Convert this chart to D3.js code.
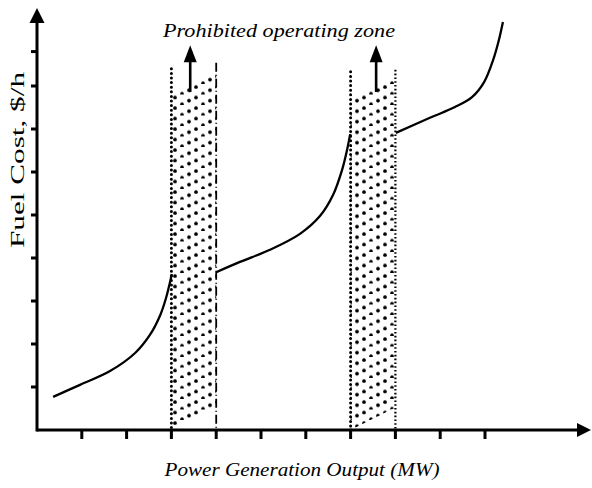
<!DOCTYPE html>
<html>
<head>
<meta charset="utf-8">
<script src="https://cdn.jsdelivr.net/npm/d3@7"></script>
<style>
  html, body { margin: 0; padding: 0; background: #fff; }
  svg { display: block; }
</style>
</head>
<body>
<svg id="chart" width="592" height="488"></svg>
<script>
// tick positions (no numbers are printed on the axes)
const xTicks = [1, 2, 3, 4, 5, 6, 7, 8, 9, 10]
const yTicks = [1, 2, 3, 4, 5, 6, 7, 8, 8.8]

// fuel cost curve, split by the two prohibited zones
const segment1 = [[0.36, 0.77], [0.96, 1.05], [1.63, 1.37], [2.19, 1.79], [2.52, 2.21], [2.75, 2.67], [2.88, 3.07], [3.01, 3.63]]
const segment2 = [[4.0, 3.67], [4.53, 3.91], [5.2, 4.19], [5.87, 4.56], [6.32, 4.98], [6.61, 5.47], [6.81, 6.05], [6.92, 6.51], [6.99, 6.88]]
const segment3 = [[8.01, 6.91], [8.77, 7.26], [9.33, 7.51], [9.71, 7.74], [9.98, 8.09], [10.18, 8.6], [10.31, 9.07], [10.4, 9.49]]

// prohibited operating zones: [from, to, top]
const zones = [[3, 4, 8.4], [7, 8, 8.33]]
const zoneArrowX = [3.42, 7.57]

const svg = d3.select('#chart')
const x = d3.scaleLinear().domain([0, 10]).range([37, 485])
const y = d3.scaleLinear().domain([0, 10]).range([430, 0])
const x0 = x(0), y0 = y(0)
const serif = 'Liberation Serif, DejaVu Serif, serif'

// dots on lines rising to the right: step (7, -3.5), rows 10.5 apart
const pat = svg.append('defs').append('pattern')
  .attr('id', 'dots')
  .attr('patternUnits', 'userSpaceOnUse')
  .attr('x', 172).attr('y', 0)
  .attr('width', 21).attr('height', 10.5)
pat.selectAll('circle')
  .data([[3, 3], [10, 9.75], [17, 6.25]])
  .enter().append('circle')
  .attr('cx', d => d[0]).attr('cy', d => d[1])
  .attr('r', 1.85).attr('fill', '#000')

// hatched zones
zones.forEach((z, i) => {
  const xl = x(z[0]), xr = x(z[1])
  const top = y(z[2])
  const slant = (xr - xl) * 0.5
  const poly = [[xl, top + 26], [xr, top + 26 - slant], [xr, y0 - slant], [xl, y0]]
  const g = svg.append('g')
  g.append('polygon')
    .attr('points', poly.map(p => p.join(',')).join(' '))
    .attr('fill', 'url(#dots)')
  g.append('line')
    .attr('x1', xl).attr('x2', xl).attr('y1', top).attr('y2', y0)
    .attr('stroke', '#000').attr('stroke-width', 3)
    .attr('stroke-linecap', 'round')
    .attr('stroke-dasharray', '0,4.6')
  g.append('line')
    .attr('x1', xr).attr('x2', xr).attr('y1', top - (i === 0 ? 6 : 2)).attr('y2', y0)
    .attr('stroke', '#000')
    .attr('stroke-width', i === 0 ? 1.8 : 2.2)
    .attr('stroke-dasharray', i === 0 ? '9,3,1,3' : '1.6,2.2')
})

// curve
const line = d3.line().x(d => x(d[0])).y(d => y(d[1])).curve(d3.curveCatmullRom)
;[segment1, segment2, segment3].forEach(seg => {
  svg.append('path')
    .attr('d', line(seg))
    .attr('fill', 'none')
    .attr('stroke', '#000')
    .attr('stroke-width', 2.3)
})

// zone arrows
zoneArrowX.forEach(v => {
  const ax = x(v)
  svg.append('line')
    .attr('x1', ax).attr('x2', ax).attr('y1', y(7.86)).attr('y2', y(8.95) + 14)
    .attr('stroke', '#000').attr('stroke-width', 2.6)
  svg.append('path')
    .attr('d', `M${ax},${y(8.95)}L${ax - 6.5},${y(8.95) + 17}L${ax + 6.5},${y(8.95) + 17}Z`)
    .attr('fill', '#000')
})

svg.append('text')
  .attr('x', 279).attr('y', 37)
  .attr('text-anchor', 'middle')
  .attr('font-family', serif)
  .attr('font-style', 'italic')
  .attr('font-size', 18)
  .attr('textLength', 232)
  .attr('lengthAdjust', 'spacingAndGlyphs')
  .text('Prohibited operating zone')

// axes
const axis = svg.append('g').attr('stroke', '#000')
axis.append('line')
  .attr('x1', x0).attr('x2', 578).attr('y1', y0).attr('y2', y0)
  .attr('stroke-width', 3)
axis.append('line')
  .attr('x1', x0).attr('x2', x0).attr('y1', y0 + 1.5).attr('y2', 20)
  .attr('stroke-width', 3)
svg.append('path')
  .attr('d', `M591,${y0}L577,${y0 - 7}L577,${y0 + 7}Z`).attr('fill', '#000')
svg.append('path')
  .attr('d', `M${x0},8L${x0 - 7.5},23L${x0 + 7.5},23Z`).attr('fill', '#000')

axis.selectAll('.xt').data(xTicks).enter().append('line')
  .attr('x1', d => x(d)).attr('x2', d => x(d))
  .attr('y1', y0).attr('y2', y0 + 9)
  .attr('stroke-width', 3)
axis.selectAll('.yt').data(yTicks).enter().append('line')
  .attr('x1', x0 - 6).attr('x2', x0)
  .attr('y1', d => y(d)).attr('y2', d => y(d))
  .attr('stroke-width', 3)

svg.append('text')
  .attr('x', 302).attr('y', 476)
  .attr('text-anchor', 'middle')
  .attr('font-family', serif)
  .attr('font-style', 'italic')
  .attr('font-size', 19)
  .attr('textLength', 275)
  .attr('lengthAdjust', 'spacingAndGlyphs')
  .text('Power Generation Output (MW)')

svg.append('text')
  .attr('transform', 'translate(24,160) rotate(-90)')
  .attr('text-anchor', 'middle')
  .attr('font-family', serif)
  .attr('font-size', 19)
  .attr('textLength', 176)
  .attr('lengthAdjust', 'spacingAndGlyphs')
  .text('Fuel Cost, $/h')
</script>
</body>
</html>
